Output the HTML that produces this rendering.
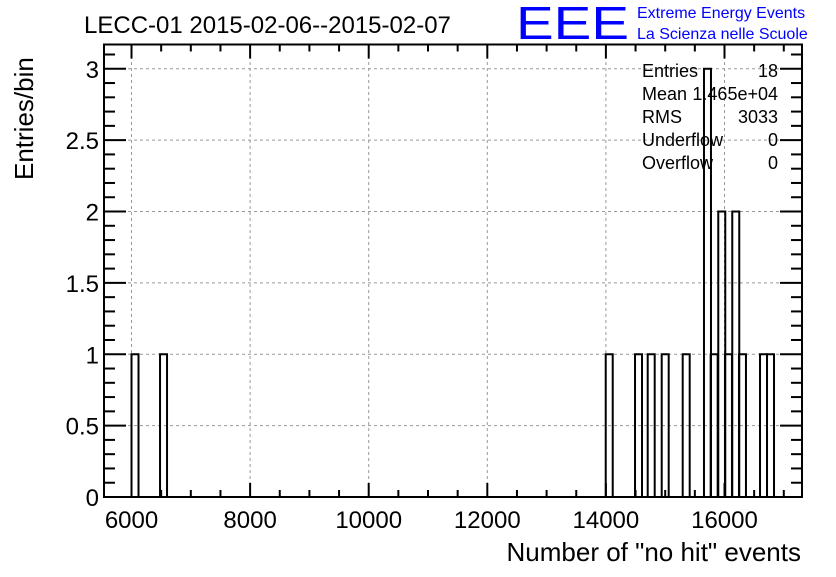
<!DOCTYPE html>
<html><head><meta charset="utf-8"><style>
body{margin:0;background:#fff;}
svg text{font-family:"Liberation Sans",Arial,sans-serif;}
</style></head><body>
<svg id="c" width="836" height="572" xmlns="http://www.w3.org/2000/svg">
<text x="84" y="33" font-size="24">LECC-01 2015-02-06--2015-02-07</text>
<text x="516" y="39" font-size="46" fill="#0000ff" textLength="113" lengthAdjust="spacingAndGlyphs">EEE</text>
<text x="637" y="18" font-size="16" fill="#0000ff">Extreme Energy Events</text>
<text x="637" y="39" font-size="16" fill="#0000ff">La Scienza nelle Scuole</text>
<g id="grid"></g>
<g id="bars"></g>
<g id="axes"></g>
<g font-size="18">
<text x="642" y="77">Entries</text><text x="778" y="77" text-anchor="end">18</text>
<text x="642" y="100">Mean</text><text x="778" y="100" text-anchor="end">1.465e+04</text>
<text x="642" y="123">RMS</text><text x="778" y="123" text-anchor="end">3033</text>
<text x="642" y="146">Underflow</text><text x="778" y="146" text-anchor="end">0</text>
<text x="642" y="169">Overflow</text><text x="778" y="169" text-anchor="end">0</text>
</g>
<text x="801" y="561" font-size="26" text-anchor="end">Number of "no hit" events</text>
<text transform="translate(33,180) rotate(-90)" font-size="26">Entries/bin</text>
</svg>
<script>
const binLows=[6000,6481,13997,14491,14705,14941,15295,15654,15767,15895,16008,16131,16244,16599,16717];
const counts=[1,1,1,1,1,1,1,3,1,2,1,2,1,1,1];
const binWidth=118;
const xTicks=[6000,8000,10000,12000,14000,16000];
const yTicks=[0,0.5,1,1.5,2,2.5,3];
const yTickLabels=["0","0.5","1","1.5","2","2.5","3"];
const X0=104,X1=802,Y0=497,Y1=44.5;
const xmin=5536,xmax=17307,ymin=0,ymax=3.17;
const sx=v=>X0+(v-xmin)/(xmax-xmin)*(X1-X0);
const sy=v=>Y0-(v-ymin)/(ymax-ymin)*(Y0-Y1);
const NS="http://www.w3.org/2000/svg";
function mk(t,a,p){const e=document.createElementNS(NS,t);for(const k in a)e.setAttribute(k,a[k]);p.appendChild(e);return e;}
const grid=document.getElementById('grid'),bars=document.getElementById('bars'),axes=document.getElementById('axes');
xTicks.forEach(v=>{const l=mk('line',{x1:sx(v),x2:sx(v),y1:Y0,y2:Y1,stroke:'#999','stroke-dasharray':'3,3','stroke-width':1},grid);

});
yTicks.forEach(v=>{const l=mk('line',{x1:X0,x2:X1,y1:sy(v),y2:sy(v),stroke:'#999','stroke-dasharray':'3,3','stroke-width':1},grid);

});
binLows.forEach((b,i)=>{const r=mk('rect',{x:sx(b),y:sy(counts[i]),width:sx(b+binWidth)-sx(b),height:Y0-sy(counts[i]),fill:'none',stroke:'#000','stroke-width':2},bars);

});
const f=mk('rect',{x:X0,y:Y1,width:X1-X0,height:Y0-Y1,fill:'none',stroke:'#000','stroke-width':2},axes);


for(let v=5500;v<=xmax;v+=500){if(v<xmin)continue;const L=(v%2000===0)?14:7;
mk('line',{x1:sx(v),x2:sx(v),y1:Y0,y2:Y0-L,stroke:'#000','stroke-width':2},axes);
mk('line',{x1:sx(v),x2:sx(v),y1:Y1,y2:Y1+L,stroke:'#000','stroke-width':2},axes);}
for(let k=0;k<=31;k++){const v=k*0.1;const L=(k%5===0)?22:11;
mk('line',{x1:X0,x2:X0+L,y1:sy(v),y2:sy(v),stroke:'#000','stroke-width':2},axes);
mk('line',{x1:X1,x2:X1-L,y1:sy(v),y2:sy(v),stroke:'#000','stroke-width':2},axes);}
xTicks.forEach(v=>{const t=mk('text',{x:sx(v),y:528,'font-size':24,'text-anchor':'middle'},axes);t.textContent=v;

});
yTicks.forEach((v,i)=>{const t=mk('text',{x:99,y:sy(v)+9,'font-size':24,'text-anchor':'end'},axes);t.textContent=yTickLabels[i];

});
</script>
</body></html>
